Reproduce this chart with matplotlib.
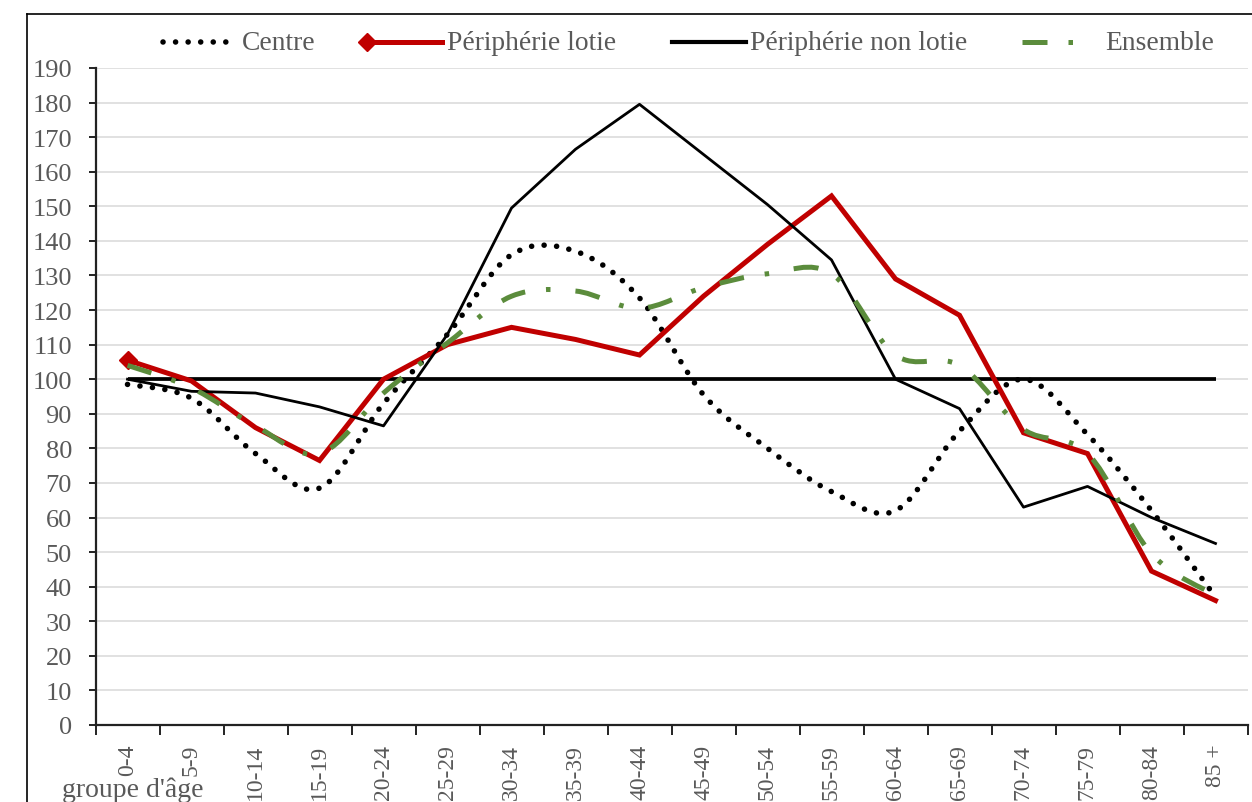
import matplotlib
matplotlib.use("Agg")
import matplotlib.pyplot as plt
from matplotlib.path import Path
from matplotlib.patches import PathPatch
from matplotlib.lines import Line2D
import numpy as np

categories = ['0-4', '5-9', '10-14', '15-19', '20-24', '25-29', '30-34', '35-39',
              '40-44', '45-49', '50-54', '55-59', '60-64', '65-69', '70-74',
              '75-79', '80-84', '85 +']
centre = [98.5, 94.5, 78.5, 68.5, 93, 113, 136, 137, 123.5, 95.5, 80, 67.5,
          62, 85, 100, 84, 62, 37]
peri_lotie = [105.5, 99.5, 86, 76.5, 100, 110, 115, 111.5, 107, 124, 139, 153,
              129, 118.5, 84.5, 78.5, 44.5, 36]
peri_non_lotie = [100, 96.5, 96, 92, 86.5, 113, 149.5, 166.5, 179.5, 165, 150.5,
                  134.5, 100, 91.5, 63, 69, 60, 52.5]
ensemble = [104, 97.5, 86.5, 78.5, 96, 110.5, 124, 125.5, 120.5, 126.5, 130.5,
            130.5, 107, 104, 85.5, 78.5, 49.5, 37.5]
reference = [100] * len(categories)
yticks = list(range(0, 200, 10))

SERIF = ['Liberation Serif', 'DejaVu Serif']
GREY = '#595959'
RED = '#C00000'
GREEN = '#5B8C3C'
DOTS = (0, (0.01, 2.25))
DASHDOT = (0, (5.0, 4.2, 0.9, 5.0))

W, H = 1252, 803
fig = plt.figure(figsize=(W / 100, H / 100), dpi=100)
fig.patch.set_facecolor('white')


def fx(px):
    return px / W


def fy(py):
    return 1 - py / H


ax = fig.add_axes([fx(95.5), fy(726), fx(1247.5) - fx(95.5), (726 - 69) / H])
x = np.arange(len(categories))


def smooth_path(xs, ys):
    pts = np.column_stack([xs, ys]).astype(float)
    n = len(pts)
    verts = [pts[0]]
    codes = [Path.MOVETO]
    for i in range(n - 1):
        p0 = pts[i - 1] if i > 0 else pts[i]
        p1 = pts[i]
        p2 = pts[i + 1]
        p3 = pts[i + 2] if i + 2 < n else pts[i + 1]
        c1 = p1 + (p2 - p0) / 6.0
        c2 = p2 - (p3 - p1) / 6.0
        verts += [c1, c2, p2]
        codes += [Path.CURVE4] * 3
    return Path(verts, codes)


# reference line at 100
ax.plot(x, reference, color='black', lw=2.7, zorder=2, solid_capstyle='butt')

# Centre: smoothed dotted line
ax.add_patch(PathPatch(smooth_path(x, centre), fill=False, edgecolor='black',
                       lw=4.0, linestyle=DOTS, capstyle='round', zorder=3))

# Périphérie lotie
ax.plot(x, peri_lotie, color=RED, lw=3.6, marker='D', markevery=[0],
        markersize=9, zorder=4, solid_joinstyle='miter')

# Périphérie non lotie
ax.plot(x, peri_non_lotie, color='black', lw=2.0, zorder=5)

# Ensemble: smoothed dash-dot
ax.add_patch(PathPatch(smooth_path(x, ensemble), fill=False, edgecolor=GREEN,
                       lw=3.6, linestyle=DASHDOT, capstyle='butt', zorder=6))

ax.set_xlim(-0.5, len(categories) - 0.5)
ax.set_ylim(0, 190)
ax.set_yticks(yticks)
ax.set_yticklabels([str(v) for v in yticks], fontfamily=SERIF, fontsize=19,
                   color=GREY)
ax.yaxis.grid(True, color='#D9D9D9', lw=1.1)
ax.set_axisbelow(True)

ax.set_xticks(np.arange(-0.5, len(categories), 1.0))
ax.set_xticklabels([])
ax.set_xticks(x, minor=True)
ax.set_xticklabels(categories, minor=True, rotation=90, fontfamily=SERIF,
                   fontsize=17, color=GREY)
ax.tick_params(axis='x', which='major', length=7, width=1.4, direction='out',
               color='#222222')
ax.tick_params(axis='x', which='minor', length=0, pad=13.5)
ax.tick_params(axis='y', which='major', length=5, width=1.4, direction='out',
               pad=12, color='#222222')

for s in ['top', 'right']:
    ax.spines[s].set_visible(False)
for s in ['left', 'bottom']:
    ax.spines[s].set_linewidth(1.6)
    ax.spines[s].set_color('#222222')

# outer frame (left and top edges)
fig.add_artist(Line2D([fx(27), fx(27)], [0, fy(15)], color='black', lw=1.2,
                      transform=fig.transFigure))
fig.add_artist(Line2D([fx(27), 1], [fy(15), fy(15)], color='black', lw=1.2,
                      transform=fig.transFigure))

# axis caption
fig.text(fx(62), fy(797), "groupe d'âge", fontfamily=SERIF, fontsize=20,
         color=GREY, ha='left', va='baseline')

# legend (drawn manually to match entry positions)
ly = fy(43)
LFS = 19.8
fig.add_artist(Line2D([fx(163), fx(236)], [ly, ly], color='black', lw=4.0,
                      linestyle=DOTS, dash_capstyle='round',
                      transform=fig.transFigure))
fig.text(fx(242), ly, 'Centre', fontfamily=SERIF, fontsize=LFS, color=GREY,
         ha='left', va='center')
fig.add_artist(Line2D([fx(367), fx(442)], [ly, ly], color=RED, lw=3.6,
                      transform=fig.transFigure))
fig.add_artist(Line2D([fx(367)], [ly], color=RED, marker='D', markersize=9,
                      linestyle='none', transform=fig.transFigure))
fig.text(fx(447), ly, 'Périphérie lotie', fontfamily=SERIF, fontsize=LFS,
         color=GREY, ha='left', va='center')
fig.add_artist(Line2D([fx(672), fx(746)], [ly, ly], color='black', lw=3.0,
                      transform=fig.transFigure))
fig.text(fx(750), ly, 'Périphérie non lotie', fontfamily=SERIF, fontsize=LFS,
         color=GREY, ha='left', va='center')
fig.add_artist(Line2D([fx(1022), fx(1074)], [ly, ly], color=GREEN, lw=3.6,
                      linestyle=DASHDOT, dash_capstyle='butt',
                      transform=fig.transFigure))
fig.text(fx(1105), ly, 'Ensemble', fontfamily=SERIF, fontsize=LFS, color=GREY,
         ha='left', va='center')

fig.savefig('out.png', dpi=100)
